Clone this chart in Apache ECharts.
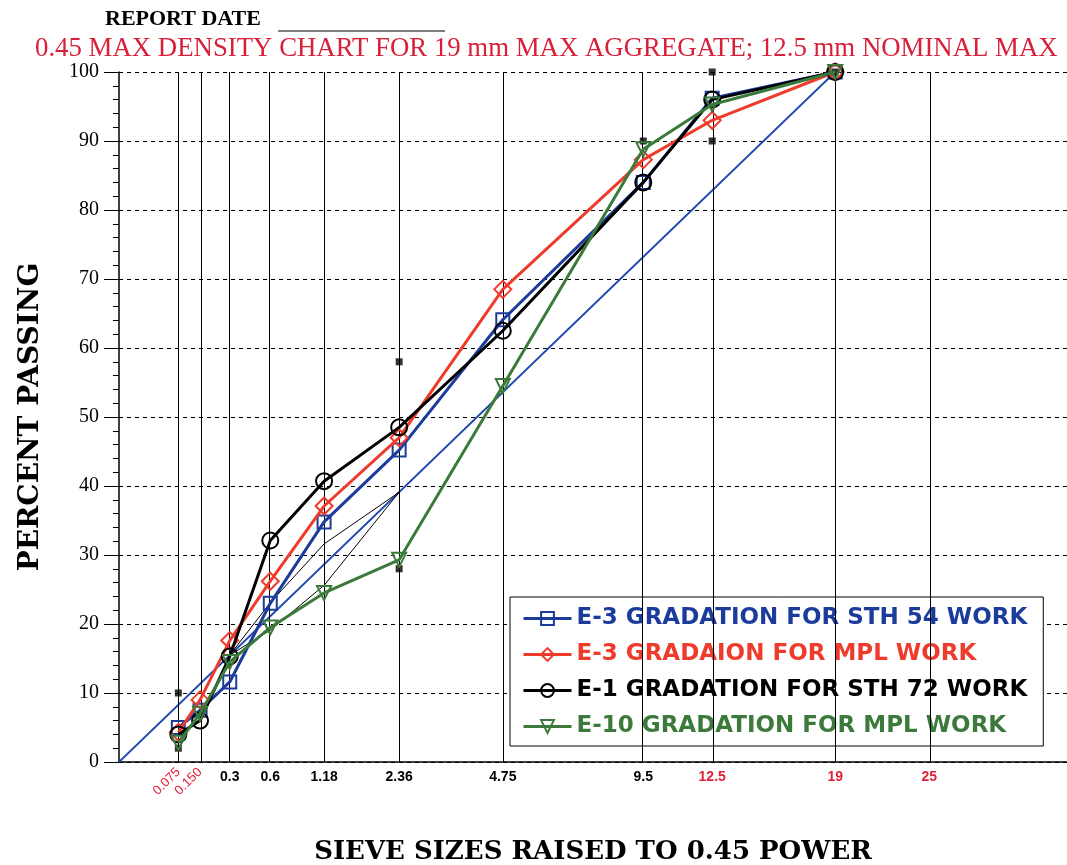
<!DOCTYPE html>
<html>
<head>
<meta charset="utf-8">
<script src="https://cdn.jsdelivr.net/npm/echarts@6/dist/echarts.min.js"></script>
<style>
  html, body { margin: 0; padding: 0; background: #fff; }
  #container { width: 1067px; height: 865px; }
</style>
</head>
<body>
<div id="container"></div>
<script>
// sieve sizes in mm, plotted on a 0.45 power scale
var sieves = [0.075, 0.15, 0.3, 0.6, 1.18, 2.36, 4.75, 9.5, 12.5, 19];
var gridSieves = [0.075, 0.15, 0.3, 0.6, 1.18, 2.36, 4.75, 9.5, 12.5, 19, 25];
var mainLabels = ['0.3', '0.6', '1.18', '2.36', '4.75', '9.5', '12.5', '19', '25'];
var smallLabels = ['0.075', '0.150'];
var redLabels = ['12.5', '19', '25'];

var sth54 = [5, 7.5, 11.6, 23, 34.8, 45.2, 64.1, 84, 96.2, 100];
var mplE3 = [4.3, 9, 17.6, 26.2, 37.1, 47, 68.5, 87.3, 93, 100];
var sth72 = [4, 6, 15.3, 32.1, 40.7, 48.5, 62.5, 84, 96, 100];
var mplE10 = [2.8, 7, 14.5, 19.5, 24.5, 29.3, 54.5, 88.8, 95.3, 100];

var maxDensSieves = [0, 19];
var maxDensVals = [0, 100];

var zoneSieves = [0.3, 0.6, 1.18, 2.36];
var zoneUpper = [15.5, 23.1, 31.6, 39.1];
var zoneLower = [15.5, 19.1, 25.6, 39.1];

var ctrlSieves = [0.075, 0.075, 2.36, 2.36, 9.5, 12.5, 12.5, 19];
var ctrlVals = [2, 10, 28, 58, 90, 90, 100, 100];

var names = [
    'E-3 GRADATION FOR STH 54 WORK',
    'E-3 GRADAION FOR MPL WORK',
    'E-1 GRADATION FOR STH 72 WORK',
    'E-10 GRADATION FOR MPL WORK'
];
var colors = ['#1c3c9c', '#ee3b2b', '#000000', '#3b7a3b'];

function p(s) { return Math.pow(s, 0.45); }
function pairs(xs, ys) {
    return xs.map(function(s, i) { return [p(s), ys[i]]; });
}

function gradation(idx, values, symbol, size, rotate) {
    return {
        name: names[idx],
        type: 'line',
        data: pairs(sieves, values),
        symbol: symbol,
        symbolSize: size,
        symbolRotate: rotate || 0,
        z: 5 + idx,
        lineStyle: { color: colors[idx], width: 3 },
        itemStyle: { color: 'rgba(255,255,255,0)', borderColor: colors[idx], borderWidth: 2 }
    };
}

var myChart = echarts.init(document.getElementById('container'));
myChart.setOption({
    animation: false,
    backgroundColor: '#fff',
    title: [{
        text: 'REPORT DATE',
        left: 100,
        top: 3,
        textStyle: { fontFamily: 'Liberation Serif', fontWeight: 'bold', fontSize: 22, color: '#000' }
    }, {
        text: '0.45 MAX DENSITY CHART FOR 19 mm MAX AGGREGATE; 12.5 mm NOMINAL MAX',
        left: 30,
        top: 30,
        textStyle: { fontFamily: 'Liberation Serif', fontWeight: 'normal', fontSize: 26.8, color: '#d8203a' }
    }],
    graphic: [{
        type: 'line',
        shape: { x1: 278, y1: 31, x2: 445, y2: 31 },
        style: { stroke: '#000', lineWidth: 1 }
    }],
    legend: {
        orient: 'vertical',
        left: 510,
        top: 597,
        backgroundColor: '#fff',
        borderColor: '#000',
        borderWidth: 1,
        padding: [10, 16, 8, 12],
        itemGap: 13,
        itemWidth: 48,
        itemHeight: 16,
        lineStyle: { width: 3 },
        textStyle: { fontFamily: 'DejaVu Sans', fontWeight: 'bold', fontSize: 23 },
        data: names.map(function(n, i) {
            return { name: n, textStyle: { color: colors[i] } };
        })
    },
    grid: { left: 119, right: 0, top: 72, bottom: 103, outerBoundsMode: 'none' },
    xAxis: [{
        type: 'value',
        min: 0,
        max: 4.98,
        name: 'SIEVE SIZES RAISED TO 0.45 POWER',
        nameLocation: 'middle',
        nameGap: 77,
        nameTextStyle: { fontFamily: 'DejaVu Serif', fontWeight: 'bold', fontSize: 26, color: '#000' },
        axisLine: { lineStyle: { color: '#000', width: 1.5 } },
        axisTick: { show: false },
        splitLine: { show: false },
        axisLabel: {
            customValues: mainLabels.map(function(l) { return p(parseFloat(l)); }),
            margin: 8,
            fontFamily: 'Liberation Sans',
            fontWeight: 'bold',
            fontSize: 14,
            color: '#000',
            formatter: function(v) {
                for (var i = 0; i < mainLabels.length; i++) {
                    if (Math.abs(p(parseFloat(mainLabels[i])) - v) < 1e-6) {
                        var l = mainLabels[i];
                        return redLabels.indexOf(l) >= 0 ? '{r|' + l + '}' : l;
                    }
                }
                return '';
            },
            rich: { r: { color: '#e0203a', fontFamily: 'Liberation Sans', fontWeight: 'bold', fontSize: 14 } }
        }
    }, {
        type: 'value',
        min: 0,
        max: 4.98,
        position: 'bottom',
        axisLine: { show: false },
        axisTick: { show: false },
        splitLine: { show: false },
        axisLabel: {
            customValues: smallLabels.map(function(l) { return p(parseFloat(l)); }),
            rotate: 45,
            margin: 8,
            fontFamily: 'Liberation Sans',
            fontSize: 13,
            color: '#e0203a',
            formatter: function(v) {
                return Math.abs(v - p(0.075)) < 1e-6 ? smallLabels[0] : smallLabels[1];
            }
        }
    }],
    yAxis: {
        type: 'value',
        min: 0,
        max: 100,
        interval: 10,
        name: 'PERCENT PASSING',
        nameLocation: 'middle',
        nameRotate: 90,
        nameGap: 74,
        nameTextStyle: { fontFamily: 'DejaVu Serif', fontWeight: 'bold', fontSize: 28, color: '#000' },
        axisLine: { show: true, lineStyle: { color: '#000', width: 1.5 } },
        axisTick: { show: true, length: 15, lineStyle: { color: '#000' } },
        minorTick: { show: true, splitNumber: 5, length: 6, lineStyle: { color: '#000' } },
        splitLine: { show: true, lineStyle: { color: '#000', type: [4, 4], width: 1 } },
        axisLabel: {
            margin: 20,
            fontFamily: 'Liberation Serif',
            fontSize: 20,
            color: '#000'
        }
    },
    series: [{
        name: 'sieve lines',
        type: 'line',
        data: [],
        z: 1,
        markLine: {
            silent: true,
            symbol: 'none',
            label: { show: false },
            lineStyle: { color: '#000', width: 1, type: 'solid' },
            data: gridSieves.map(function(s) { return { xAxis: p(s) }; })
        }
    }, {
        name: 'max density',
        type: 'line',
        data: pairs(maxDensSieves, maxDensVals),
        symbol: 'none',
        z: 2,
        lineStyle: { color: '#2048b0', width: 1.8 }
    }, {
        name: 'zone upper',
        type: 'line',
        data: pairs(zoneSieves, zoneUpper),
        symbol: 'none',
        z: 2,
        lineStyle: { color: '#000', width: 1 }
    }, {
        name: 'zone lower',
        type: 'line',
        data: pairs(zoneSieves, zoneLower),
        symbol: 'none',
        z: 2,
        lineStyle: { color: '#000', width: 1 }
    }, {
        name: 'control points',
        type: 'scatter',
        data: pairs(ctrlSieves, ctrlVals),
        symbol: 'rect',
        symbolSize: 7,
        clip: false,
        z: 3,
        itemStyle: { color: '#000' }
    },
    gradation(0, sth54, 'rect', 13),
    gradation(1, mplE3, 'diamond', 17),
    gradation(2, sth72, 'circle', 16),
    gradation(3, mplE10, 'triangle', 14, 180)
    ]
});
</script>
</body>
</html>
